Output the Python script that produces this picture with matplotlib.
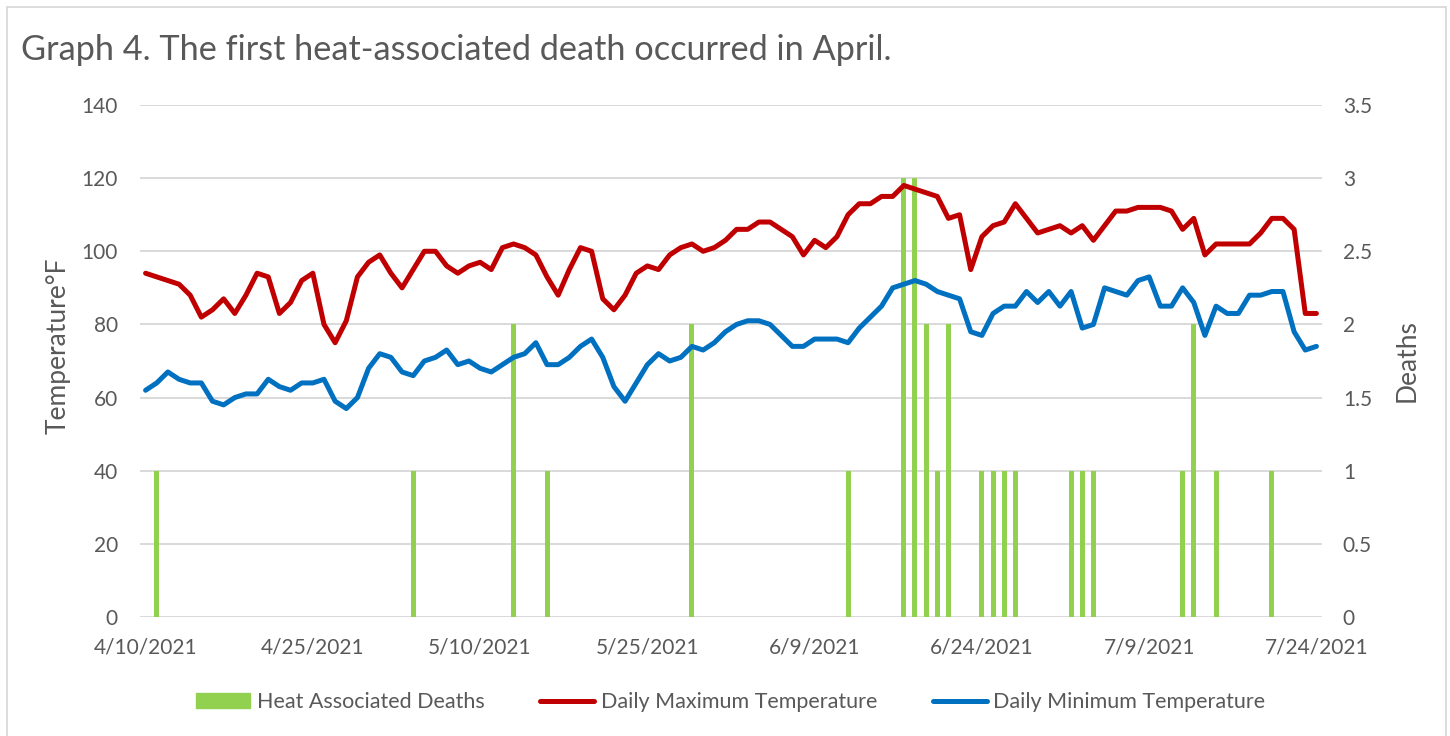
import datetime as dt

import matplotlib.pyplot as plt
import matplotlib.dates as mdates
from matplotlib.lines import Line2D
from matplotlib.patches import Patch, Rectangle
import pandas as pd

plt.rcParams["font.family"] = ["Lato", "DejaVu Sans"]

TEXT = "#595959"
GRID = "#d9d9d9"
RED = "#C00000"
BLUE = "#0070C0"
GREEN = "#92D050"

start_date = "2021-04-10"
end_date = "2021-07-24"

max_temp = [
    94, 93, 92, 91, 88, 82, 84, 87, 83, 88, 94, 93, 83, 86, 92, 94, 80, 75,
    81, 93, 97, 99, 94, 90, 95, 100, 100, 96, 94, 96, 97, 95, 101, 102, 101,
    99, 93, 88, 95, 101, 100, 87, 84, 88, 94, 96, 95, 99, 101, 102, 100, 101,
    103, 106, 106, 108, 108, 106, 104, 99, 103, 101, 104, 110, 113, 113, 115,
    115, 118, 117, 116, 115, 109, 110, 95, 104, 107, 108, 113, 109, 105, 106,
    107, 105, 107, 103, 107, 111, 111, 112, 112, 112, 111, 106, 109, 99, 102,
    102, 102, 102, 105, 109, 109, 106, 83, 83,
]
min_temp = [
    62, 64, 67, 65, 64, 64, 59, 58, 60, 61, 61, 65, 63, 62, 64, 64, 65, 59,
    57, 60, 68, 72, 71, 67, 66, 70, 71, 73, 69, 70, 68, 67, 69, 71, 72, 75,
    69, 69, 71, 74, 76, 71, 63, 59, 64, 69, 72, 70, 71, 74, 73, 75, 78, 80,
    81, 81, 80, 77, 74, 74, 76, 76, 76, 75, 79, 82, 85, 90, 91, 92, 91, 89,
    88, 87, 78, 77, 83, 85, 85, 89, 86, 89, 85, 89, 79, 80, 90, 89, 88, 92,
    93, 85, 85, 90, 86, 77, 85, 83, 83, 88, 88, 89, 89, 78, 73, 74,
]
death_dates = [
    "2021-04-11", "2021-05-04", "2021-05-13", "2021-05-16", "2021-05-29",
    "2021-06-12", "2021-06-17", "2021-06-18", "2021-06-19", "2021-06-20",
    "2021-06-21", "2021-06-24", "2021-06-25", "2021-06-26", "2021-06-27",
    "2021-07-02", "2021-07-03", "2021-07-04", "2021-07-12", "2021-07-13",
    "2021-07-15", "2021-07-20",
]
death_counts = [1, 1, 2, 1, 2, 1, 3, 3, 2, 1, 2, 1, 1, 1, 1, 1, 1, 1, 1, 2, 1, 1]

temp_ticks = [0, 20, 40, 60, 80, 100, 120, 140]
death_ticks = [0, 0.5, 1, 1.5, 2, 2.5, 3, 3.5]
death_tick_labels = ["0", "0.5", "1", "1.5", "2", "2.5", "3", "3.5"]

dates = pd.date_range(start_date, end_date, freq="D")
bar_dates = pd.to_datetime(death_dates)

W, H = 1450, 736
fig = plt.figure(figsize=(W / 100, H / 100), dpi=100)
fig.patches.append(
    Rectangle((7 / W, -0.01), 1439 / W, 1.0 - 7 / H + 0.01,
              transform=fig.transFigure, fill=False, ec=GRID, lw=1.3)
)

ax = fig.add_axes([140 / W, 1 - 617 / H, 1182 / W, 512 / H])
ax2 = ax.twinx()
ax.set_zorder(ax2.get_zorder() + 1)
ax.patch.set_visible(False)

# deaths (secondary axis, drawn underneath the temperature lines)
ax2.bar(bar_dates, death_counts, width=0.45, color=GREEN, zorder=2)
ax2.set_ylim(0, 3.5)
ax2.set_yticks(death_ticks)
ax2.set_yticklabels(death_tick_labels)
ax2.grid(axis="y", color=GRID, lw=1.4)
ax2.set_axisbelow(True)

# temperatures
ax.plot(dates, max_temp, color=RED, lw=3.6, solid_capstyle="round",
        solid_joinstyle="round")
ax.plot(dates, min_temp, color=BLUE, lw=3.6, solid_capstyle="round",
        solid_joinstyle="round")
ax.set_ylim(0, 140)
ax.set_yticks(temp_ticks)

x0 = dates[0] - pd.Timedelta(hours=12)
x1 = dates[-1] + pd.Timedelta(hours=12)
ax.set_xlim(x0, x1)
tick_dates = dates[::15]
ax.set_xticks(tick_dates)
ax.set_xticklabels([f"{d.month}/{d.day}/{d.year}" for d in tick_dates])

for a in (ax, ax2):
    for s in a.spines.values():
        s.set_visible(False)
    a.tick_params(length=0, colors=TEXT, labelsize=15)
ax.tick_params(axis="y", pad=16)
ax.tick_params(axis="x", pad=15)
ax2.tick_params(axis="y", pad=15)

fig.text(21 / W, 1 - 50 / H, "Graph 4. The first heat-associated death occurred in April.",
         fontsize=24.7, color=TEXT, va="center", ha="left")
fig.text(58 / W, 1 - 346 / H, "Temperature°F", rotation=90, fontsize=19,
         color=TEXT, va="center", ha="center")
fig.text(1407 / W, 1 - 361 / H, "Deaths", rotation=90, fontsize=19,
         color=TEXT, va="center", ha="center")

handles = [
    Patch(color=GREEN, label="Heat Associated Deaths"),
    Line2D([], [], color=RED, lw=3.6, solid_capstyle="round",
           label="Daily Maximum Temperature"),
    Line2D([], [], color=BLUE, lw=3.6, solid_capstyle="round",
           label="Daily Minimum Temperature"),
]
leg = fig.legend(handles=handles, loc="center", bbox_to_anchor=(731 / W, 1 - 702 / H),
                 ncol=3, frameon=False, fontsize=15.5, handlelength=2.5,
                 handleheight=0.65, handletextpad=0.3, columnspacing=2.6)
for t in leg.get_texts():
    t.set_color(TEXT)

fig.savefig("out.png", dpi=100)
